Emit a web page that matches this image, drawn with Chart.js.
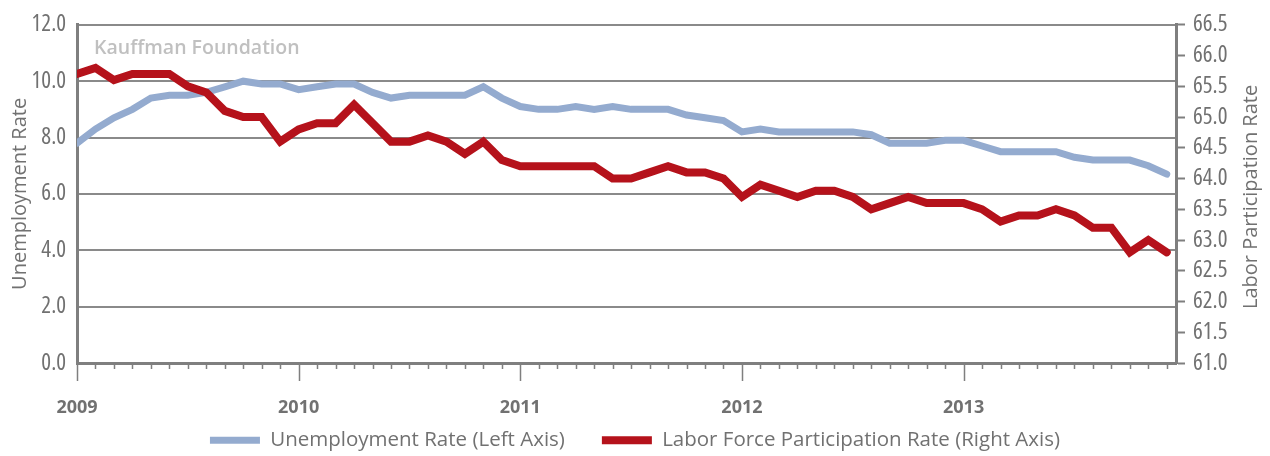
<!DOCTYPE html>
<html><head><meta charset="utf-8">
<script src="https://cdn.jsdelivr.net/npm/chart.js@4.4.1/dist/chart.umd.min.js"></script>
<style>html,body{margin:0;padding:0;background:#fff;}canvas{display:block;}</style>
</head><body>
<canvas id="c" width="1270" height="456"></canvas>
<script>
const months = [
 'Jan 2009','Feb 2009','Mar 2009','Apr 2009','May 2009','Jun 2009','Jul 2009','Aug 2009','Sep 2009','Oct 2009','Nov 2009','Dec 2009',
 'Jan 2010','Feb 2010','Mar 2010','Apr 2010','May 2010','Jun 2010','Jul 2010','Aug 2010','Sep 2010','Oct 2010','Nov 2010','Dec 2010',
 'Jan 2011','Feb 2011','Mar 2011','Apr 2011','May 2011','Jun 2011','Jul 2011','Aug 2011','Sep 2011','Oct 2011','Nov 2011','Dec 2011',
 'Jan 2012','Feb 2012','Mar 2012','Apr 2012','May 2012','Jun 2012','Jul 2012','Aug 2012','Sep 2012','Oct 2012','Nov 2012','Dec 2012',
 'Jan 2013','Feb 2013','Mar 2013','Apr 2013','May 2013','Jun 2013','Jul 2013','Aug 2013','Sep 2013','Oct 2013','Nov 2013','Dec 2013'
];
const unemploymentRate = [
 7.8, 8.3, 8.7, 9.0, 9.4, 9.5, 9.5, 9.6, 9.8, 10.0, 9.9, 9.9,
 9.7, 9.8, 9.9, 9.9, 9.6, 9.4, 9.5, 9.5, 9.5, 9.5, 9.8, 9.4,
 9.1, 9.0, 9.0, 9.1, 9.0, 9.1, 9.0, 9.0, 9.0, 8.8, 8.7, 8.6,
 8.2, 8.3, 8.2, 8.2, 8.2, 8.2, 8.2, 8.1, 7.8, 7.8, 7.8, 7.9,
 7.9, 7.7, 7.5, 7.5, 7.5, 7.5, 7.3, 7.2, 7.2, 7.2, 7.0, 6.7
];
const participationRate = [
 65.7, 65.8, 65.6, 65.7, 65.7, 65.7, 65.5, 65.4, 65.1, 65.0, 65.0, 64.6,
 64.8, 64.9, 64.9, 65.2, 64.9, 64.6, 64.6, 64.7, 64.6, 64.4, 64.6, 64.3,
 64.2, 64.2, 64.2, 64.2, 64.2, 64.0, 64.0, 64.1, 64.2, 64.1, 64.1, 64.0,
 63.7, 63.9, 63.8, 63.7, 63.8, 63.8, 63.7, 63.5, 63.6, 63.7, 63.6, 63.6,
 63.6, 63.5, 63.3, 63.4, 63.4, 63.5, 63.4, 63.2, 63.2, 62.8, 63.0, 62.8
];
const seriesNames = ['Unemployment Rate (Left Axis)', 'Labor Force Participation Rate (Right Axis)'];
const leftAxisTitle = 'Unemployment Rate';
const rightAxisTitle = 'Labor Participation Rate';
const watermark = 'Kauffman Foundation';

const frameColor = '#7f7f7f';
const gridColor = '#8a8a8a';
const textGray = '#717171';
const titleFont = {family: "'Open Sans'", size: 20};
const tickFont = {family: "'Open Sans'", size: 23, weight: 'condensed'};

const extras = {
  id: 'extras',
  beforeDatasetsDraw(chart) {
    const {ctx, chartArea} = chart;
    ctx.save();
    ctx.font = "600 19.5px 'Open Sans'";
    ctx.fillStyle = '#c0c0c0';
    ctx.textBaseline = 'middle';
    ctx.textAlign = 'left';
    ctx.fillText(watermark, chartArea.left + 17, 48);
    ctx.restore();
  },
  afterDraw(chart) {
    const {ctx, chartArea} = chart;
    const xs = chart.scales.x;
    ctx.save();
    ctx.strokeStyle = frameColor;
    ctx.lineWidth = 1.5;
    months.forEach((m, i) => {
      const px = Math.round(xs.getPixelForValue(i)) + 0.5;
      const major = m.startsWith('Jan');
      ctx.beginPath();
      ctx.moveTo(px, chartArea.bottom);
      ctx.lineTo(px, chartArea.bottom + (major ? 18 : 6));
      ctx.stroke();
    });
    ctx.translate(1251, (chartArea.top + chartArea.bottom) / 2 + 3);
    ctx.rotate(-Math.PI / 2);
    ctx.font = titleFont.size + 'px ' + titleFont.family;
    ctx.fillStyle = textGray;
    ctx.textAlign = 'center';
    ctx.textBaseline = 'middle';
    ctx.fillText(rightAxisTitle, 0, 0);
    ctx.restore();
  }
};

new Chart(document.getElementById('c'), {
  type: 'line',
  data: {
    datasets: [
      {
        label: seriesNames[0],
        data: months.map((m, i) => ({x: i, y: unemploymentRate[i]})),
        yAxisID: 'y',
        borderColor: '#94abcf',
        backgroundColor: '#94abcf',
        borderWidth: 7,
        pointRadius: 0,
        borderCapStyle: 'round',
        tension: 0,
        order: 1
      },
      {
        label: seriesNames[1],
        data: months.map((m, i) => ({x: i, y: participationRate[i]})),
        yAxisID: 'y1',
        borderColor: '#b5121b',
        backgroundColor: '#b5121b',
        borderWidth: 8,
        pointRadius: 0,
        borderCapStyle: 'round',
        tension: 0,
        order: 0
      }
    ]
  },
  options: {
    responsive: false,
    animation: false,
    devicePixelRatio: 1,
    layout: {padding: {top: 19, left: 0, right: 0, bottom: -4.5}},
    plugins: {
      tooltip: {enabled: false},
      legend: {
        position: 'bottom',
        labels: {
          usePointStyle: true,
          pointStyle: 'line',
          pointStyleWidth: 50,
          padding: 37,
          color: textGray,
          font: {family: "'Open Sans'", size: 20.5},
          sort: (a, b) => a.datasetIndex - b.datasetIndex
        }
      }
    },
    scales: {
      x: {
        type: 'linear',
        min: 0,
        max: 59.5,
        afterBuildTicks(scale) {
          scale.ticks = months.map((m, i) => ({value: i})).filter(t => months[t.value].startsWith('Jan'));
        },
        afterFit(scale) { scale.height = 30; },
        grid: {drawOnChartArea: false, drawTicks: true, tickLength: 18, tickColor: 'rgba(0,0,0,0)'},
        border: {display: true, color: frameColor, width: 3},
        ticks: {
          autoSkip: false,
          maxRotation: 0,
          mirror: true,
          padding: -56,
          color: textGray,
          font: {family: "'Open Sans'", size: 18, weight: 'bold'},
          callback: (v) => months[v] ? months[v].slice(4) : ''
        }
      },
      y: {
        position: 'left',
        min: 0,
        max: 12,
        afterFit(scale) { scale.width = 77; },
        grid: {color: gridColor, lineWidth: 2, drawTicks: false},
        border: {display: true, color: frameColor, width: 3},
        ticks: {stepSize: 2, padding: 11, color: textGray, font: tickFont, callback: (v) => v.toFixed(1)},
        title: {display: true, text: leftAxisTitle, color: textGray, font: titleFont, padding: {top: 8, bottom: 0}}
      },
      y1: {
        position: 'right',
        min: 61,
        max: 66.5,
        afterFit(scale) { scale.width = 94; },
        grid: {drawOnChartArea: false, drawTicks: true, tickLength: 9, tickColor: frameColor, tickWidth: 2},
        border: {display: true, color: frameColor, width: 3},
        ticks: {stepSize: 0.5, padding: 8, color: textGray, font: tickFont, callback: (v) => v.toFixed(1)}
      }
    }
  },
  plugins: [extras]
});
</script>
</body></html>
